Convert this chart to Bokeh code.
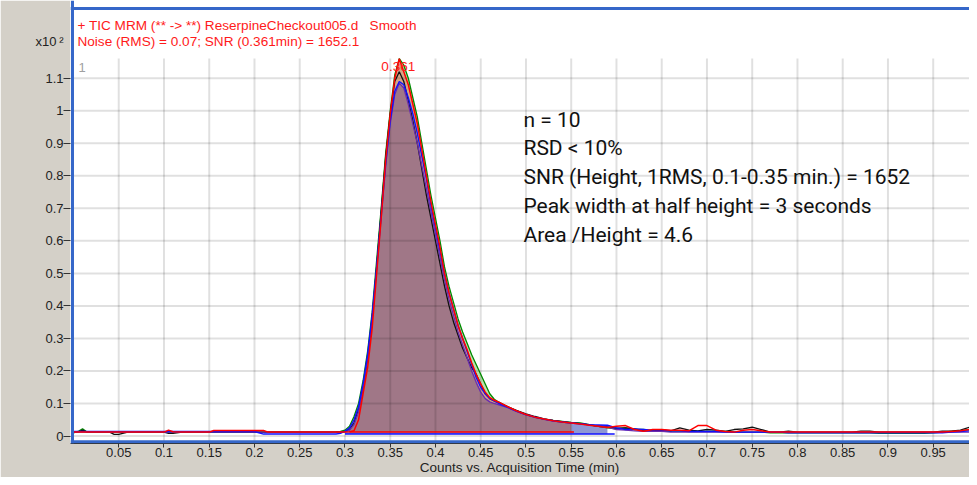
import numpy as np
from bokeh.plotting import figure
from bokeh.models import Range1d, FixedTicker, Label, Span, LinearAxis
from bokeh.embed import file_html
from bokeh.resources import INLINE

# ---------------- data ----------------
time = [
    0.000, 0.005, 0.010, 0.015, 0.020, 0.030, 0.040, 0.045, 0.050, 0.060,
    0.070, 0.080, 0.090, 0.100, 0.105, 0.110, 0.120, 0.130, 0.140, 0.150,
    0.155, 0.160, 0.170, 0.180, 0.190, 0.200, 0.210, 0.215, 0.220, 0.230,
    0.240, 0.250, 0.260, 0.270, 0.280, 0.290, 0.295, 0.300, 0.305, 0.310,
    0.315, 0.320, 0.325, 0.330, 0.335, 0.340, 0.345, 0.350, 0.355, 0.360,
    0.365, 0.370, 0.375, 0.380, 0.385, 0.390, 0.395, 0.400, 0.405, 0.410,
    0.415, 0.420, 0.425, 0.430, 0.435, 0.440, 0.445, 0.450, 0.455, 0.460,
    0.465, 0.470, 0.480, 0.490, 0.500, 0.510, 0.520, 0.530, 0.540, 0.550,
    0.560, 0.570, 0.580, 0.590, 0.600, 0.610, 0.620, 0.630, 0.640, 0.650,
    0.660, 0.670, 0.680, 0.690, 0.700, 0.710, 0.720, 0.730, 0.740, 0.750,
    0.760, 0.770, 0.780, 0.790, 0.800, 0.820, 0.840, 0.860, 0.870, 0.880,
    0.890, 0.900, 0.920, 0.940, 0.950, 0.960, 0.970, 0.980, 0.990, 0.997,
]

run_red = [
    0.012, 0.012, 0.012, 0.012, 0.012, 0.012, 0.012, 0.012, 0.012, 0.012,
    0.012, 0.012, 0.012, 0.012, 0.018, 0.013, 0.012, 0.012, 0.012, 0.012,
    0.017, 0.017, 0.017, 0.017, 0.017, 0.017, 0.017, 0.012, 0.012, 0.012,
    0.012, 0.012, 0.012, 0.012, 0.012, 0.012, 0.012, 0.012, 0.013, 0.016,
    0.050, 0.130, 0.210, 0.330, 0.500, 0.670, 0.850, 0.990, 1.100, 1.160,
    1.120, 1.080, 1.020, 0.960, 0.880, 0.800, 0.720, 0.650, 0.580, 0.500,
    0.440, 0.390, 0.340, 0.300, 0.265, 0.225, 0.190, 0.160, 0.135, 0.118,
    0.110, 0.104, 0.090, 0.077, 0.066, 0.058, 0.052, 0.047, 0.043, 0.040,
    0.037, 0.033, 0.030, 0.026, 0.030, 0.032, 0.020, 0.015, 0.020, 0.020,
    0.018, 0.018, 0.016, 0.032, 0.032, 0.018, 0.014, 0.012, 0.018, 0.020,
    0.016, 0.012, 0.012, 0.012, 0.012, 0.012, 0.012, 0.012, 0.012, 0.012,
    0.012, 0.012, 0.012, 0.012, 0.012, 0.012, 0.014, 0.016, 0.020, 0.020,
]

run_green = [
    0.010, 0.014, 0.022, 0.012, 0.012, 0.012, 0.012, 0.012, 0.012, 0.012,
    0.012, 0.012, 0.012, 0.012, 0.012, 0.012, 0.012, 0.012, 0.012, 0.012,
    0.012, 0.012, 0.012, 0.012, 0.012, 0.012, 0.012, 0.012, 0.012, 0.012,
    0.012, 0.012, 0.012, 0.012, 0.012, 0.013, 0.014, 0.018, 0.030, 0.060,
    0.100, 0.170, 0.260, 0.380, 0.540, 0.700, 0.870, 1.000, 1.110, 1.160,
    1.140, 1.100, 1.040, 0.980, 0.900, 0.820, 0.740, 0.670, 0.600, 0.520,
    0.460, 0.410, 0.360, 0.320, 0.285, 0.250, 0.220, 0.190, 0.160, 0.130,
    0.113, 0.104, 0.090, 0.077, 0.066, 0.058, 0.052, 0.048, 0.045, 0.042,
    0.040, 0.035, 0.030, 0.025, 0.022, 0.025, 0.020, 0.020, 0.015, 0.015,
    0.016, 0.015, 0.015, 0.014, 0.014, 0.014, 0.014, 0.012, 0.012, 0.012,
    0.012, 0.010, 0.010, 0.010, 0.010, 0.010, 0.010, 0.010, 0.010, 0.010,
    0.008, 0.008, 0.008, 0.008, 0.010, 0.012, 0.014, 0.016, 0.020, 0.020,
]

run_blue = [
    0.014, 0.014, 0.014, 0.014, 0.014, 0.014, 0.014, 0.014, 0.014, 0.014,
    0.014, 0.014, 0.014, 0.014, 0.014, 0.014, 0.014, 0.014, 0.014, 0.014,
    0.014, 0.014, 0.014, 0.014, 0.014, 0.014, 0.006, 0.006, 0.006, 0.006,
    0.006, 0.006, 0.006, 0.006, 0.006, 0.006, 0.008, 0.015, 0.025, 0.050,
    0.090, 0.160, 0.250, 0.370, 0.520, 0.680, 0.840, 0.970, 1.060, 1.090,
    1.080, 1.040, 0.990, 0.930, 0.860, 0.790, 0.710, 0.640, 0.570, 0.500,
    0.440, 0.390, 0.340, 0.300, 0.260, 0.220, 0.180, 0.150, 0.130, 0.115,
    0.108, 0.100, 0.088, 0.076, 0.066, 0.058, 0.052, 0.047, 0.043, 0.040,
    0.038, 0.035, 0.034, 0.033, 0.025, 0.020, 0.022, 0.020, 0.018, 0.018,
    0.016, 0.016, 0.014, 0.014, 0.014, 0.014, 0.012, 0.012, 0.012, 0.012,
    0.012, 0.012, 0.012, 0.010, 0.010, 0.010, 0.010, 0.010, 0.010, 0.010,
    0.010, 0.010, 0.010, 0.010, 0.010, 0.010, 0.012, 0.014, 0.016, 0.016,
]

run_black = [
    0.012, 0.012, 0.018, 0.012, 0.012, 0.012, 0.012, 0.005, 0.005, 0.012,
    0.012, 0.012, 0.012, 0.012, 0.008, 0.008, 0.012, 0.012, 0.012, 0.012,
    0.012, 0.012, 0.012, 0.012, 0.012, 0.012, 0.012, 0.012, 0.012, 0.012,
    0.012, 0.012, 0.012, 0.012, 0.012, 0.012, 0.012, 0.014, 0.020, 0.040,
    0.080, 0.150, 0.240, 0.360, 0.520, 0.690, 0.860, 0.990, 1.090, 1.120,
    1.090, 1.030, 0.970, 0.900, 0.820, 0.740, 0.670, 0.600, 0.530, 0.460,
    0.400, 0.350, 0.310, 0.270, 0.240, 0.210, 0.190, 0.160, 0.130, 0.115,
    0.108, 0.102, 0.090, 0.078, 0.068, 0.060, 0.053, 0.048, 0.044, 0.041,
    0.038, 0.034, 0.030, 0.028, 0.024, 0.025, 0.022, 0.016, 0.016, 0.018,
    0.016, 0.025, 0.018, 0.016, 0.020, 0.018, 0.014, 0.020, 0.022, 0.027,
    0.020, 0.012, 0.012, 0.015, 0.012, 0.012, 0.012, 0.012, 0.015, 0.015,
    0.012, 0.012, 0.012, 0.012, 0.012, 0.015, 0.015, 0.018, 0.027, 0.020,
]

run_purple = [
    0.012, 0.012, 0.012, 0.012, 0.012, 0.012, 0.012, 0.012, 0.012, 0.012,
    0.012, 0.012, 0.012, 0.012, 0.012, 0.012, 0.012, 0.012, 0.012, 0.012,
    0.012, 0.012, 0.012, 0.012, 0.012, 0.012, 0.012, 0.012, 0.012, 0.012,
    0.012, 0.012, 0.012, 0.012, 0.012, 0.012, 0.012, 0.013, 0.018, 0.035,
    0.075, 0.150, 0.240, 0.360, 0.510, 0.670, 0.830, 0.960, 1.050, 1.085,
    1.070, 1.020, 0.960, 0.900, 0.830, 0.760, 0.690, 0.620, 0.550, 0.480,
    0.420, 0.370, 0.320, 0.280, 0.240, 0.200, 0.165, 0.135, 0.115, 0.105,
    0.100, 0.096, 0.087, 0.075, 0.065, 0.057, 0.051, 0.046, 0.043, 0.040,
    0.037, 0.034, 0.030, 0.027, 0.020, 0.018, 0.016, 0.014, 0.014, 0.014,
    0.012, 0.012, 0.012, 0.012, 0.012, 0.012, 0.012, 0.012, 0.012, 0.012,
    0.012, 0.012, 0.012, 0.012, 0.012, 0.012, 0.012, 0.012, 0.012, 0.012,
    0.012, 0.012, 0.012, 0.012, 0.012, 0.012, 0.012, 0.012, 0.012, 0.012,
]

# integration windows (min) and baselines
red_window = (0.305, 0.553)
blue_window = (0.300, 0.598)
red_baseline = 0.012
blue_baseline = 0.006

x_ticks = [0.05, 0.1, 0.15, 0.2, 0.25, 0.3, 0.35, 0.4, 0.45, 0.5,
           0.55, 0.6, 0.65, 0.7, 0.75, 0.8, 0.85, 0.9, 0.95]
x_tick_labels = ["0.05", "0.1", "0.15", "0.2", "0.25", "0.3", "0.35", "0.4", "0.45", "0.5",
                 "0.55", "0.6", "0.65", "0.7", "0.75", "0.8", "0.85", "0.9", "0.95"]
y_ticks = [0.0, 0.1, 0.2, 0.3, 0.4, 0.5, 0.6, 0.7, 0.8, 0.9, 1.0, 1.1]
y_tick_labels = ["0", "0.1", "0.2", "0.3", "0.4", "0.5", "0.6", "0.7", "0.8", "0.9", "1", "1.1"]
y_scale_pos = 1.213
y_scale_label = "x10\u2009\u00b2"

header_lines = ["+ TIC MRM (** -> **) ReserpineCheckout005.d\u00a0\u00a0\u00a0Smooth",
                "Noise (RMS) = 0.07; SNR (0.361min) = 1652.1"]
peak_label = "0.361"
notes = ["n = 10", "RSD < 10%", "SNR (Height, 1RMS, 0.1-0.35 min.) = 1652",
         "Peak width at half height = 3 seconds", "Area /Height = 4.6"]

# ---------------- figure ----------------
X0, X1 = -0.0033, 0.9901
Y0, Y1 = -0.0230, 1.3390
GRID_TOP = 1.161
FRAME_TOP = 1.3144
FRAME_BOTTOM = -0.018
FRAME_LEFT = -0.0011

p = figure(width=969, height=477, output_backend="svg", toolbar_location=None,
           x_range=Range1d(X0, X1), y_range=Range1d(Y0, Y1),
           min_border_left=70, min_border_right=0, min_border_top=0, min_border_bottom=33)
p.background_fill_color = "white"
p.border_fill_color = "#d4d0c8"
p.outline_line_color = None
p.xgrid.visible = False
p.ygrid.visible = False

t = np.array(time)
R, G, B, K, P = (np.array(a) for a in (run_red, run_green, run_blue, run_black, run_purple))

# integration fills
m_red = (t >= red_window[0]) & (t <= red_window[1])
m_blue = (t >= blue_window[0]) & (t <= blue_window[1])
p.varea(x=t[m_red], y1=red_baseline, y2=G[m_red], fill_color="#b9dfae")
p.varea(x=t[m_blue], y1=blue_baseline, y2=B[m_blue], fill_color="#8e97d4")
p.varea(x=t[m_red], y1=red_baseline, y2=R[m_red], fill_color="#d6a585")
p.varea(x=t[m_red], y1=red_baseline, y2=P[m_red], fill_color="#a07787")

# grid drawn over the fills (translucent)
p.segment(x0=x_ticks, y0=[Y0] * len(x_ticks), x1=x_ticks, y1=[GRID_TOP] * len(x_ticks),
          line_color="black", line_alpha=0.12, line_width=2)
p.segment(x0=[X0] * len(y_ticks), y0=y_ticks, x1=[X1] * len(y_ticks), y1=y_ticks,
          line_color="black", line_alpha=0.12, line_width=2)

# baselines of integration
p.line(x=[blue_window[0], blue_window[1]], y=[blue_baseline, blue_baseline], line_color="#1010ff", line_width=1.5)
p.line(x=[red_window[0], red_window[1]], y=[red_baseline, red_baseline], line_color="#ff0000", line_width=1.5)

# traces
p.line(t, G, line_color="#008a00", line_width=1.3)
p.line(t, K, line_color="#111111", line_width=1.3)
p.line(t, P, line_color="#6a2cb0", line_width=1.3)
p.line(t, B, line_color="#1010ff", line_width=1.4)
p.line(t, R, line_color="#ff0000", line_width=1.5)

# blue panel border
for sp in (Span(location=FRAME_TOP, dimension="width"),
           Span(location=FRAME_BOTTOM, dimension="width"),
           Span(location=FRAME_LEFT, dimension="height")):
    sp.line_color = "#3567c9"
    sp.line_width = 3
    p.add_layout(sp)

# axes
tick_font = "Liberation Sans"
p.xaxis.ticker = FixedTicker(ticks=x_ticks)
p.xaxis.major_label_overrides = dict(zip(x_ticks, x_tick_labels))
p.xaxis.major_label_text_font = tick_font
p.xaxis.major_label_text_font_size = "13px"
p.xaxis.major_label_text_color = "#222222"
p.xaxis.minor_tick_line_color = None
p.xaxis.major_tick_in = 0
p.xaxis.major_tick_line_color = "#333333"
p.xaxis.axis_line_color = "#333333"
p.xaxis.major_tick_out = 4
p.xaxis.major_label_standoff = 0
p.xaxis.axis_label = "Counts vs. Acquisition Time (min)"
p.xaxis.axis_label_text_font = tick_font
p.xaxis.axis_label_text_font_size = "13.5px"
p.xaxis.axis_label_text_font_style = "normal"
p.xaxis.axis_label_text_color = "#222222"
p.xaxis.axis_label_standoff = 0

# y axis next to the frame: tick marks only
ytick_axis = p.yaxis[0]
ytick_axis.ticker = FixedTicker(ticks=y_ticks)
ytick_axis.major_label_overrides = {v: "" for v in y_ticks}
ytick_axis.major_label_text_font_size = "13px"
ytick_axis.axis_line_color = None
ytick_axis.minor_tick_line_color = None
ytick_axis.major_tick_in = 0
ytick_axis.major_tick_out = 7
ytick_axis.major_tick_line_color = "#333333"
ytick_axis.major_label_standoff = 0

# y axis labels (plus the x10^2 multiplier) without tick marks
ylabel_axis = LinearAxis(ticker=FixedTicker(ticks=y_ticks + [y_scale_pos]),
                         major_label_overrides={**dict(zip(y_ticks, y_tick_labels)),
                                                y_scale_pos: y_scale_label})
ylabel_axis.major_label_text_font = tick_font
ylabel_axis.major_label_text_font_size = "13px"
ylabel_axis.major_label_text_color = "#222222"
ylabel_axis.axis_line_color = None
ylabel_axis.major_tick_line_color = None
ylabel_axis.minor_tick_line_color = None
ylabel_axis.major_tick_in = 0
ylabel_axis.major_tick_out = 0
ylabel_axis.major_label_standoff = 0
p.add_layout(ylabel_axis, "left")

# texts (positions given as pixel-row centres converted to data units)
def row(py):
    return Y1 - py / 326.0

header_rows = [25.5, 41.0]
for line, py in zip(header_lines, header_rows):
    p.add_layout(Label(x=0.0044, y=row(py), text=line, text_font=tick_font,
                       text_baseline="middle", text_font_size="13.6px", text_color="#ff1a1a"))
p.add_layout(Label(x=0.0055, y=row(67), text="1", text_font=tick_font, text_font_size="13px",
                   text_baseline="middle", text_color="#a0a0a0"))
p.add_layout(Label(x=0.359, y=row(66), text=peak_label, text_align="center", text_font=tick_font,
                   text_baseline="middle", text_font_size="13.6px", text_color="#ff1a1a"))
note_rows = [119.5, 148.3, 177.1, 205.9, 234.7]
for line, py in zip(notes, note_rows):
    p.add_layout(Label(x=0.4972, y=row(py), text=line, text_font="Roboto",
                       text_baseline="middle", text_font_size="21px", text_color="#111111"))

open("out.html", "w").write(file_html(p, INLINE))
